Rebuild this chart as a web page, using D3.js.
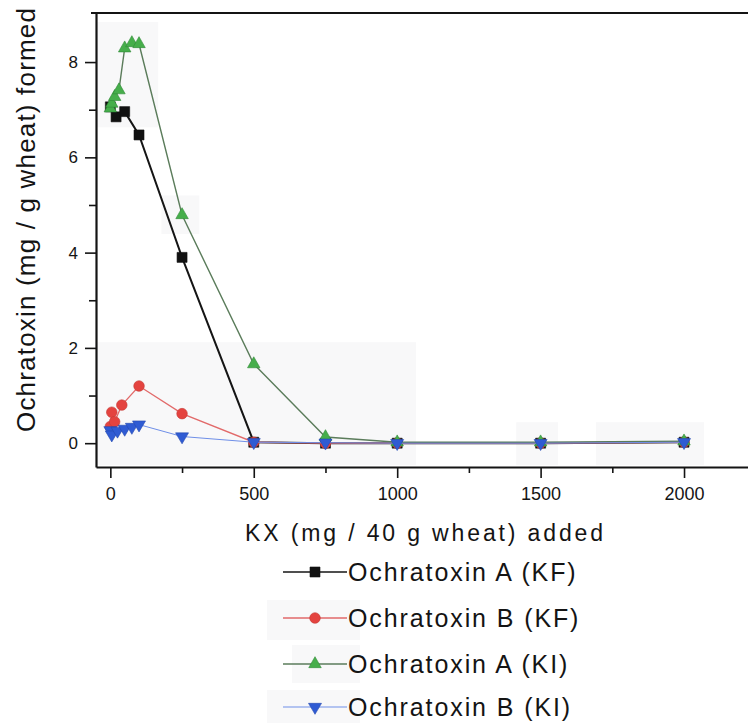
<!DOCTYPE html>
<html><head><meta charset="utf-8">
<script src="https://cdn.jsdelivr.net/npm/d3@7/dist/d3.min.js"></script>
<style>
body{margin:0;background:#fff}
svg{display:block}
text{font-family:"Liberation Sans",Arial,Helvetica,sans-serif;fill:#141414}
</style>
</head><body>
<svg id="c" width="748" height="723"></svg>
<script>
// ---- data ----
const xTicksMajor = [0, 500, 1000, 1500, 2000];
const xTicksMinor = [250, 750, 1250, 1750];
const yTicksMajor = [0, 2, 4, 6, 8];
const yTicksMinor = [1, 3, 5, 7];

const aKF_x = [0, 20, 50, 100, 250, 500, 750, 1000, 1500, 2000];
const aKF_y = [7.06, 6.85, 6.96, 6.47, 3.90, 0.02, 0.0, 0.0, 0.0, 0.02];

const bKF_x = [0, 5, 15, 40, 100, 250, 500, 750, 1000, 1500, 2000];
const bKF_y = [0.35, 0.65, 0.45, 0.80, 1.20, 0.62, 0.02, 0.0, 0.0, 0.0, 0.02];

const aKI_x = [0, 5, 15, 30, 50, 75, 100, 250, 500, 750, 1000, 1500, 2000];
const aKI_y = [7.03, 7.13, 7.27, 7.41, 8.29, 8.40, 8.38, 4.79, 1.66, 0.13, 0.02, 0.02, 0.04];

const bKI_x = [0, 5, 25, 50, 75, 100, 250, 500, 750, 1000, 1500, 2000];
const bKI_y = [0.27, 0.18, 0.26, 0.30, 0.34, 0.39, 0.14, 0.02, 0.01, 0.0, 0.0, 0.02];

const seriesNames = ["Ochratoxin A (KF)", "Ochratoxin B (KF)", "Ochratoxin A (KI)", "Ochratoxin B (KI)"];
const xTitle = "KX (mg / 40 g wheat) added";
const yTitle = "Ochratoxin (mg / g wheat) formed";

// faint scan patches (data units): [x0, x1, y0, y1]
const patchX0 = [-45, 178, -45, 1415, 1693];
const patchX1 = [167, 310, 1066, 1561, 2070];
const patchY0 = [8.84, 5.2, 2.12, 0.44, 0.44];
const patchY1 = [6.63, 4.39, -0.46, -0.46, -0.46];

// ---- layout ----
const svg = d3.select("#c");
const L = 96, R = 750, T = 13, B = 467;
const x = d3.scaleLinear().domain([-50, 2230]).range([L, R]);
const y = d3.scaleLinear().domain([-0.5, 9.03]).range([B, T]);
const patchFill = "#f8f8f9";

// patches
const patches = patchX0.map((d, i) => ({x0: d, x1: patchX1[i], y0: patchY0[i], y1: patchY1[i]}));
svg.append("g").selectAll("rect").data(patches).join("rect")
  .attr("x", d => x(d.x0)).attr("width", d => x(d.x1) - x(d.x0))
  .attr("y", d => y(d.y0)).attr("height", d => y(d.y1) - y(d.y0))
  .attr("fill", patchFill);

// axes
const gx = svg.append("g").attr("transform", `translate(0,${B})`)
  .call(d3.axisBottom(x).tickValues(xTicksMajor).tickFormat(d3.format("d"))
    .tickSize(11).tickSizeOuter(0).tickPadding(9));
svg.append("g").attr("transform", `translate(0,${B})`)
  .call(d3.axisBottom(x).tickValues(xTicksMinor).tickSize(6).tickSizeOuter(0).tickFormat(""))
  .select(".domain").remove();
gx.selectAll("text").attr("font-size", 18).attr("fill", "#141414");

const gy = svg.append("g").attr("transform", `translate(${L},0)`)
  .call(d3.axisLeft(y).tickValues(yTicksMajor).tickFormat(d3.format("d"))
    .tickSize(11).tickSizeOuter(0).tickPadding(7));
svg.append("g").attr("transform", `translate(${L},0)`)
  .call(d3.axisLeft(y).tickValues(yTicksMinor).tickSize(7).tickSizeOuter(0).tickFormat(""))
  .select(".domain").remove();
gy.selectAll("text").attr("font-size", 17).attr("fill", "#141414");

svg.selectAll(".domain").attr("stroke", "#141414").attr("stroke-width", 2.2);
svg.selectAll(".tick line").attr("stroke", "#141414").attr("stroke-width", 1.6);
svg.selectAll("text").attr("font-family", null);

// top frame line
svg.append("line").attr("x1", L - 5).attr("x2", 748).attr("y1", T).attr("y2", T)
  .attr("stroke", "#141414").attr("stroke-width", 2.2);

// titles
svg.append("text").attr("x", 424).attr("y", 541).attr("text-anchor", "middle")
  .attr("font-size", 23).attr("textLength", 358).attr("lengthAdjust", "spacing").text(xTitle);
svg.append("text").attr("transform", "translate(35,220) rotate(-90)").attr("text-anchor", "middle")
  .attr("font-size", 26).attr("textLength", 424).attr("lengthAdjust", "spacing").text(yTitle);

// marker shapes
function upTri(w, h){ return `M0,${-2*h/3}L${w/2},${h/3}L${-w/2},${h/3}Z`; }
function downTri(w, h){ return `M0,${2*h/3}L${w/2},${-h/3}L${-w/2},${-h/3}Z`; }
function square(s){ return `M${-s/2},${-s/2}h${s}v${s}h${-s}Z`; }
function circle(r){ return `M${r},0A${r},${r} 0 1,1 ${-r},0A${r},${r} 0 1,1 ${r},0Z`; }

const series = [
  {name: seriesNames[0], xs: aKF_x, ys: aKF_y, line: "#151515", lw: 2.0, fill: "#111", stroke: "#111", shape: square(10)},
  {name: seriesNames[1], xs: bKF_x, ys: bKF_y, line: "#e26a6a", lw: 1.3, fill: "#e4433f", stroke: "#c53a36", shape: circle(5.3)},
  {name: seriesNames[2], xs: aKI_x, ys: aKI_y, line: "#5b7c5b", lw: 1.4, fill: "#46ae4b", stroke: "#2f8a35", shape: upTri(12.5, 11)},
  {name: seriesNames[3], xs: bKI_x, ys: bKI_y, line: "#6f8fe8", lw: 1.0, fill: "#2f5bd3", stroke: "#2448b0", shape: downTri(13, 11)}
];

const line = d3.line().x(d => x(d[0])).y(d => y(d[1]));
series.forEach(s => {
  const pts = s.xs.map((v, i) => [v, s.ys[i]]);
  svg.append("path").datum(pts).attr("d", line).attr("fill", "none")
    .attr("stroke", s.line).attr("stroke-width", s.lw);
  svg.append("g").selectAll("path").data(pts).join("path")
    .attr("transform", d => `translate(${x(d[0])},${y(d[1])})`)
    .attr("d", s.shape).attr("fill", s.fill).attr("stroke", s.stroke).attr("stroke-width", 0.6);
});

// legend
const legRowY = [572, 618, 664, 707];
const lg = svg.append("g");
// faint patches behind three legend rows
lg.append("rect").attr("x", 267).attr("y", legRowY[1] - 18).attr("width", 93).attr("height", 40).attr("fill", patchFill);
lg.append("rect").attr("x", 292).attr("y", legRowY[2] - 19).attr("width", 68).attr("height", 38).attr("fill", patchFill);
lg.append("rect").attr("x", 267).attr("y", legRowY[3] - 17).attr("width", 93).attr("height", 40).attr("fill", patchFill);
series.forEach((s, i) => {
  const yy = legRowY[i];
  lg.append("line").attr("x1", 283).attr("x2", 347).attr("y1", yy).attr("y2", yy)
    .attr("stroke", s.line).attr("stroke-width", Math.min(s.lw, 1.4));
  lg.append("path").attr("transform", `translate(315,${yy})`).attr("d", s.shape)
    .attr("fill", s.fill).attr("stroke", s.stroke).attr("stroke-width", 0.6);
  lg.append("text").attr("x", 348).attr("y", yy + 9).attr("font-size", 25)
    .attr("letter-spacing", "1.9px").text(s.name);
});
</script>
</body></html>
